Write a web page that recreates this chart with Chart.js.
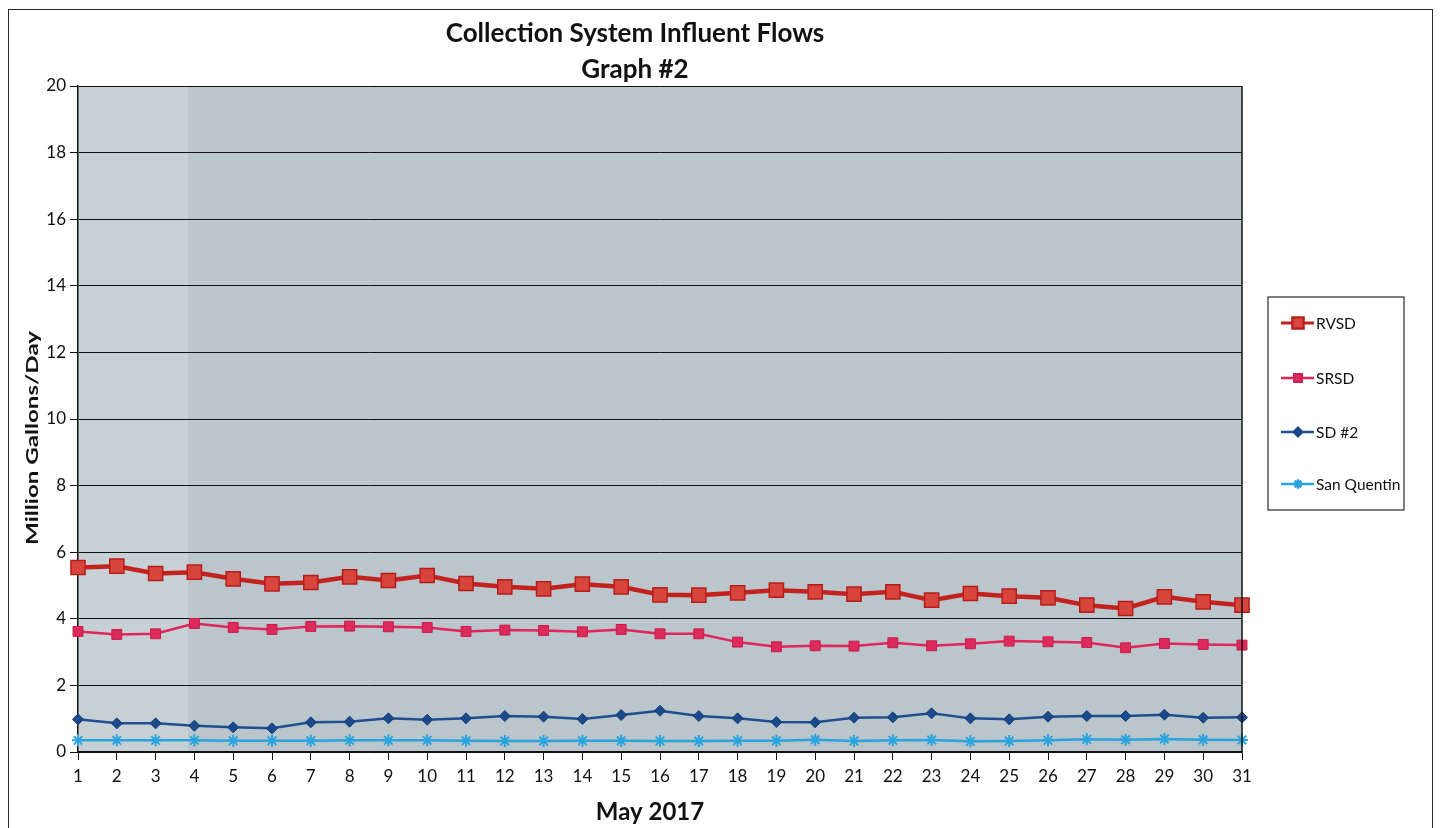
<!DOCTYPE html>
<html>
<head>
<meta charset="utf-8">
<title>Collection System Influent Flows</title>
<script src="https://cdn.jsdelivr.net/npm/chart.js@4.4.1/dist/chart.umd.min.js"></script>
<style>
  html, body { margin: 0; padding: 0; background: #ffffff; }
  #wrap { position: relative; width: 1440px; height: 828px; overflow: hidden; }
  #frame { position: absolute; left: 8px; top: 9px; width: 1425px; height: 840px;
           border: 1.5px solid #2a2a2a; box-sizing: border-box; pointer-events: none; }
  canvas { position: absolute; left: 0; top: 0; }
</style>
</head>
<body>
<div id="wrap">
  <canvas id="chart" width="1440" height="828"></canvas>
  <div id="frame"></div>
</div>
<script>
// Days of May 2017
const days = ['1','2','3','4','5','6','7','8','9','10','11','12','13','14','15','16',
              '17','18','19','20','21','22','23','24','25','26','27','28','29','30','31'];

// Daily influent flow, million gallons per day
const rvsd = [5.54, 5.58, 5.36, 5.40, 5.20, 5.05, 5.09, 5.26, 5.15, 5.30,
              5.06, 4.96, 4.90, 5.04, 4.96, 4.72, 4.71, 4.78, 4.86, 4.81,
              4.74, 4.81, 4.56, 4.76, 4.68, 4.63, 4.41, 4.31, 4.66, 4.51, 4.41];
const srsd = [3.62, 3.53, 3.55, 3.86, 3.74, 3.68, 3.77, 3.78, 3.76, 3.74,
              3.62, 3.66, 3.65, 3.61, 3.68, 3.55, 3.55, 3.30, 3.16, 3.19,
              3.18, 3.28, 3.19, 3.25, 3.33, 3.31, 3.29, 3.13, 3.26, 3.23, 3.21];
const sd2  = [0.98, 0.86, 0.86, 0.79, 0.74, 0.71, 0.89, 0.91, 1.01, 0.97,
              1.01, 1.08, 1.06, 0.99, 1.11, 1.24, 1.08, 1.01, 0.90, 0.89,
              1.03, 1.04, 1.16, 1.01, 0.98, 1.06, 1.08, 1.08, 1.12, 1.03, 1.04];
const sanQuentin = [0.35, 0.35, 0.35, 0.35, 0.34, 0.34, 0.34, 0.35, 0.35, 0.35,
                    0.34, 0.33, 0.33, 0.34, 0.34, 0.33, 0.33, 0.34, 0.34, 0.37,
                    0.33, 0.35, 0.36, 0.32, 0.33, 0.35, 0.38, 0.37, 0.39, 0.37, 0.36];

const yTicks = [0, 2, 4, 6, 8, 10, 12, 14, 16, 18, 20];

const titleLines = ['Collection System Influent Flows', 'Graph #2'];
const xTitle = 'May 2017';
const yTitle = 'Million Gallons/Day';

const FONT = 'Lato, "Open Sans", sans-serif';
const INK = '#111111';

// Shaded plot background, right frame line, titles and boxed legend
const decor = {
  id: 'decor',
  beforeDraw(chart) {
    const { ctx, chartArea: a } = chart;
    ctx.save();
    ctx.fillStyle = '#bac5cc';
    ctx.fillRect(a.left, a.top, a.right - a.left, a.bottom - a.top);
    ctx.fillStyle = '#c7d1d5';
    ctx.fillRect(a.left, a.top, 110, a.bottom - a.top);
    ctx.restore();
  },
  afterDatasetsDraw(chart) {
    const { ctx, chartArea: a } = chart;
    ctx.save();
    ctx.strokeStyle = INK;
    ctx.lineWidth = 1.5;
    ctx.beginPath();
    ctx.moveTo(a.right, a.top);
    ctx.lineTo(a.right, a.bottom);
    ctx.stroke();
    ctx.restore();
  },
  afterDraw(chart) {
    const { ctx, chartArea: a } = chart;
    ctx.save();
    ctx.fillStyle = INK;
    ctx.textAlign = 'center';
    ctx.textBaseline = 'middle';

    // chart title
    ctx.font = 'bold 26px ' + FONT;
    ctx.fillText(titleLines[0], 635, 34);
    ctx.fillText(titleLines[1], 635, 70);

    // x axis title
    ctx.font = 'bold 24px ' + FONT;
    ctx.fillText(xTitle, 650, 812);

    // y axis title, stretched along its length
    ctx.save();
    ctx.translate(33, (a.top + a.bottom) / 2 + 19);
    ctx.rotate(-Math.PI / 2);
    ctx.scale(1.42, 1);
    ctx.font = 'bold 17px ' + FONT;
    ctx.fillText(yTitle, 0, 0);
    ctx.restore();

    // legend box
    const bx = 1268, by = 297, bw = 136, bh = 213;
    ctx.fillStyle = '#ffffff';
    ctx.fillRect(bx, by, bw, bh);
    ctx.strokeStyle = '#2a2a2a';
    ctx.lineWidth = 1.2;
    ctx.strokeRect(bx, by, bw, bh);
    const rows = [323, 378, 432, 484];
    chart.data.datasets.forEach((ds, i) => {
      const y = rows[i];
      ctx.strokeStyle = ds.borderColor;
      ctx.lineWidth = Math.min(ds.borderWidth, 3);
      ctx.beginPath();
      ctx.moveTo(1281, y);
      ctx.lineTo(1314, y);
      ctx.stroke();
      Chart.helpers.drawPoint(ctx, {
        pointStyle: ds.pointStyle,
        radius: ds.pointRadius * 0.75,
        borderWidth: ds.pointBorderWidth,
        rotation: 0
      }, 1298, y);
      ctx.fillStyle = ds.pointBackgroundColor;
      ctx.strokeStyle = ds.pointBorderColor;
      ctx.lineWidth = ds.pointBorderWidth;
      if (ds.pointStyle !== 'star') ctx.fill();
      ctx.stroke();
      ctx.fillStyle = INK;
      ctx.font = '15.5px ' + FONT;
      ctx.textAlign = 'left';
      ctx.fillText(ds.label, 1316, y + 1);
    });
    ctx.restore();
  }
};

new Chart(document.getElementById('chart'), {
  type: 'line',
  data: {
    labels: days,
    datasets: [
      {
        label: 'RVSD', data: rvsd,
        borderColor: '#c4221f', borderWidth: 4.5,
        pointStyle: 'rect', pointRadius: 10,
        pointBackgroundColor: '#d8453c', pointBorderColor: '#b51d1b', pointBorderWidth: 1.5
      },
      {
        label: 'SRSD', data: srsd,
        borderColor: '#e0245c', borderWidth: 2.5,
        pointStyle: 'rect', pointRadius: 7,
        pointBackgroundColor: '#dc2a5a', pointBorderColor: '#c81d4c', pointBorderWidth: 1
      },
      {
        label: 'SD #2', data: sd2,
        borderColor: '#1f4f8f', borderWidth: 2.5,
        pointStyle: 'rectRot', pointRadius: 5.5,
        pointBackgroundColor: '#1b4a8c', pointBorderColor: '#173f78', pointBorderWidth: 1
      },
      {
        label: 'San Quentin', data: sanQuentin,
        borderColor: '#2ba4de', borderWidth: 2.5,
        pointStyle: 'star', pointRadius: 6,
        pointBackgroundColor: '#2ba4de', pointBorderColor: '#2ba4de', pointBorderWidth: 2
      }
    ]
  },
  options: {
    responsive: false,
    animation: false,
    events: [],
    layout: { padding: { left: 0, top: 86, right: 198, bottom: 0 } },
    plugins: {
      legend: { display: false },
      title: { display: false },
      tooltip: { enabled: false }
    },
    elements: { line: { tension: 0 } },
    scales: {
      x: {
        type: 'category',
        offset: false,
        afterFit(scale) { scale.height = 76; },
        grid: { drawOnChartArea: false, drawTicks: true, tickLength: 8, color: INK, lineWidth: 1 },
        border: { display: true, color: INK, width: 1.5 },
        ticks: { color: INK, font: { family: FONT, size: 17 }, padding: 6, maxRotation: 0, autoSkip: false }
      },
      y: {
        min: 0, max: 20,
        afterFit(scale) { scale.width = 78; },
        afterBuildTicks(scale) { scale.ticks = yTicks.map(v => ({ value: v })); },
        grid: { color: INK, lineWidth: 1, tickLength: 8, drawTicks: true },
        border: { display: true, color: INK, width: 1.5 },
        ticks: { color: INK, font: { family: FONT, size: 17 }, padding: 4 }
      }
    }
  },
  plugins: [decor]
});
</script>
</body>
</html>
